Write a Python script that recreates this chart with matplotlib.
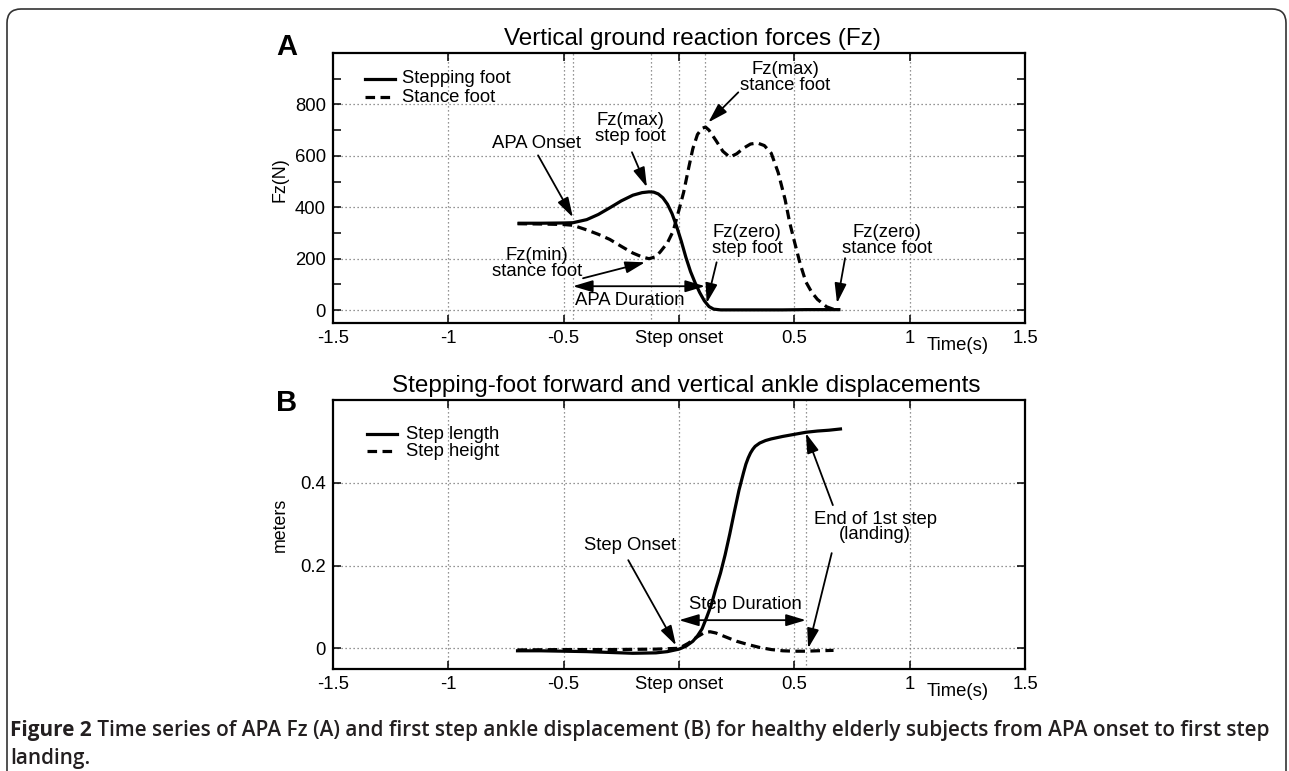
import matplotlib
matplotlib.use('Agg')
import matplotlib.pyplot as plt
from matplotlib import font_manager
from matplotlib.patches import FancyBboxPatch
from matplotlib.transforms import IdentityTransform

# ---------------- data ----------------
t_fz_step = [-0.70, -0.60, -0.50, -0.46, -0.40, -0.35, -0.30, -0.25, -0.20, -0.16, -0.13,
             -0.11, -0.09, -0.07, -0.05, -0.03, -0.01, 0.01, 0.03, 0.05, 0.07, 0.09, 0.11,
             0.13, 0.15, 0.18, 0.25, 0.35, 0.45, 0.55, 0.70]
fz_step = [338, 338, 339, 340, 352, 372, 398, 425, 447, 457, 460,
           459, 452, 437, 412, 375, 325, 268, 205, 150, 106, 68, 36,
           14, 4, 1, 1, 1, 1, 2, 2]

t_fz_stance = [-0.70, -0.60, -0.50, -0.46, -0.40, -0.35, -0.30, -0.25, -0.20, -0.16, -0.13,
               -0.10, -0.08, -0.05, -0.025, 0.00, 0.02, 0.04, 0.06, 0.08, 0.10, 0.115,
               0.13, 0.16, 0.19, 0.22, 0.25, 0.28, 0.31, 0.34, 0.37, 0.40, 0.43, 0.46,
               0.48, 0.50, 0.525, 0.55, 0.575, 0.60, 0.64, 0.68]
fz_stance = [336, 335, 333, 330, 312, 295, 275, 248, 222, 207, 200,
             208, 228, 262, 308, 390, 458, 545, 628, 683, 707, 712,
             700, 660, 618, 595, 608, 630, 646, 650, 640, 610, 535, 430,
             340, 268, 181, 110, 70, 42, 13, 0]

t_len = [-0.70, -0.60, -0.50, -0.40, -0.30, -0.20, -0.10, -0.05, 0.00, 0.03, 0.06, 0.08,
         0.10, 0.12, 0.14, 0.16, 0.18, 0.20, 0.22, 0.24, 0.26, 0.28, 0.29, 0.30, 0.31,
         0.32, 0.33, 0.35, 0.375, 0.40, 0.45, 0.50, 0.55, 0.60, 0.65, 0.70]
step_length = [-0.006, -0.006, -0.007, -0.008, -0.010, -0.012, -0.011, -0.008, -0.002, 0.005,
               0.017, 0.030, 0.047, 0.075, 0.105, 0.145, 0.182, 0.226, 0.276, 0.330, 0.382,
               0.425, 0.445, 0.460, 0.472, 0.481, 0.488, 0.496, 0.502, 0.506, 0.512, 0.517,
               0.522, 0.525, 0.527, 0.530]

t_height = [-0.70, -0.50, -0.30, -0.10, 0.00, 0.04, 0.08, 0.11, 0.135, 0.16, 0.20, 0.25,
            0.30, 0.35, 0.40, 0.45, 0.50, 0.55, 0.60, 0.67]
step_height = [-0.004, -0.003, -0.003, -0.002, 0.000, 0.012, 0.028, 0.038, 0.040, 0.037,
               0.028, 0.017, 0.009, 0.002, -0.003, -0.006, -0.007, -0.007, -0.006, -0.005]

x_ticks = [-1.5, -1, -0.5, 0, 0.5, 1, 1.5]
x_ticklabels = ['-1.5', '-1', '-0.5', 'Step onset', '0.5', '1', '1.5']
fz_yticks = [0, 200, 400, 600, 800]
fz_minor = [100, 300, 500, 700, 900]
m_yticks = [0, 0.2, 0.4]
m_yticklabels = ['0', '0.2', '0.4']
events_a = [-0.46, -0.12, 0.113]
events_b = [0.55]

# ---------------- fonts ----------------
names = {f.name for f in font_manager.fontManager.ttflist}
main_font = 'Liberation Sans' if 'Liberation Sans' in names else 'DejaVu Sans'
cap_font = None
for cand in ['Liberation Sans Narrow', 'Open Sans', 'Liberation Sans']:
    if cand in names:
        cap_font = cand
        break
plt.rcParams['font.family'] = [main_font, 'DejaVu Sans']

W, H = 1289, 771
fig = plt.figure(figsize=(W / 100, H / 100), dpi=100)
fig.patch.set_facecolor('white')

axA = fig.add_axes([333 / W, 1 - 323 / H, 692 / W, 270 / H])
axB = fig.add_axes([333 / W, 1 - 669 / H, 692 / W, 269 / H])

grid_kw = dict(color='0.45', lw=0.9, ls=(0, (1, 2.2)), zorder=0)
LW = 2.3
DASH = (0, (3.0, 1.7))


def style(ax):
    ax.set_xlim(-1.5, 1.5)
    ax.set_xticks(x_ticks)
    ax.set_xticklabels(x_ticklabels)
    for s in ax.spines.values():
        s.set_linewidth(1.6)
    ax.tick_params(which='both', direction='in', top=True, right=True, length=5.5,
                   width=1.1, labelsize=13.3, pad=5)
    for x in x_ticks[1:-1]:
        ax.axvline(x, **grid_kw)


# ---------------- panel A ----------------
style(axA)
axA.set_ylim(-50, 1000)
axA.set_yticks(fz_yticks)
axA.set_yticks(fz_minor, minor=True)
for y in fz_yticks:
    axA.axhline(y, **grid_kw)
for x in events_a:
    axA.axvline(x, **grid_kw)

axA.plot(t_fz_step, fz_step, color='k', lw=LW, solid_capstyle='butt', zorder=3)
axA.plot(t_fz_stance, fz_stance, color='k', lw=LW, ls=DASH, zorder=3)

# legend
axA.plot([0.046, 0.090], [0.904, 0.904], color='k', lw=LW, transform=axA.transAxes)
axA.plot([0.046, 0.090], [0.837, 0.837], color='k', lw=LW, ls=DASH, transform=axA.transAxes)
axA.text(0.0995, 0.904, 'Stepping foot', transform=axA.transAxes, fontsize=13.3, va='center')
axA.text(0.0995, 0.837, 'Stance foot', transform=axA.transAxes, fontsize=13.3, va='center')

axA.text(-0.0766, 0.53, 'Fz(N)', transform=axA.transAxes, rotation=90, fontsize=12.8,
         ha='center', va='center')

arrow = dict(arrowstyle='-|>,head_length=0.6,head_width=0.18', color='k', lw=1.3,
             shrinkA=0, shrinkB=0, mutation_scale=20)
darrow = dict(arrowstyle='<|-|>,head_length=0.6,head_width=0.18', color='k', lw=1.3,
              shrinkA=0, shrinkB=0, mutation_scale=20)

tk = dict(fontsize=13.3, ha='center', va='center', linespacing=0.9)
axA.text(-0.616, 648, 'APA Onset', **tk)
axA.annotate('', xy=(-0.46, 361), xytext=(-0.611, 602), arrowprops=arrow)
axA.text(-0.212, 707, 'Fz(max)\nstep foot', **tk)
axA.annotate('', xy=(-0.139, 478), xytext=(-0.204, 614), arrowprops=arrow)
axA.text(-0.616, 182, 'Fz(min)\nstance foot', **tk)
axA.annotate('', xy=(-0.147, 186), xytext=(-0.416, 124), arrowprops=arrow)
axA.text(-0.212, 39, 'APA Duration', **tk)
axA.annotate('', xy=(0.113, 93), xytext=(-0.46, 93), arrowprops=darrow)
axA.text(0.295, 272, 'Fz(zero)\nstep foot', **tk)
axA.annotate('', xy=(0.12, 27), xytext=(0.163, 186), arrowprops=arrow)
axA.text(0.46, 905, 'Fz(max)\nstance foot', **tk)
axA.annotate('', xy=(0.127, 730), xytext=(0.257, 847), arrowprops=arrow)
axA.text(0.902, 272, 'Fz(zero)\nstance foot', **tk)
axA.annotate('', xy=(0.685, 27), xytext=(0.72, 202), arrowprops=arrow)

axA.annotate('Time(s)', xy=(1.21, 0), xycoords=('data', 'axes fraction'),
             xytext=(0, -16), textcoords='offset points', ha='center', va='center',
             fontsize=13.3)

# ---------------- panel B ----------------
style(axB)
axB.set_ylim(-0.05, 0.6)
axB.set_yticks(m_yticks)
axB.set_yticklabels(m_yticklabels)
for y in m_yticks:
    axB.axhline(y, **grid_kw)
for x in events_b:
    axB.axvline(x, **grid_kw)

axB.plot(t_len, step_length, color='k', lw=LW, zorder=3)
axB.plot(t_height, step_height, color='k', lw=LW, ls=DASH, zorder=3)

axB.plot([0.049, 0.092], [0.8736, 0.8736], color='k', lw=LW, transform=axB.transAxes)
axB.plot([0.049, 0.092], [0.810, 0.810], color='k', lw=LW, ls=DASH, transform=axB.transAxes)
axB.text(0.1055, 0.8736, 'Step length', transform=axB.transAxes, fontsize=13.3, va='center')
axB.text(0.1055, 0.810, 'Step height', transform=axB.transAxes, fontsize=13.3, va='center')

axB.text(-0.0766, 0.535, 'meters', transform=axB.transAxes, rotation=90, fontsize=12.8,
         ha='center', va='center')

axB.text(-0.212, 0.249, 'Step Onset', **tk)
axB.annotate('', xy=(-0.013, 0.007), xytext=(-0.22, 0.213), arrowprops=arrow)
axB.text(0.286, 0.106, 'Step Duration', **tk)
axB.annotate('', xy=(0.55, 0.068), xytext=(0.0, 0.068), arrowprops=darrow)
axB.text(0.85, 0.293, 'End of 1st step\n(landing)', **tk)
axB.annotate('', xy=(0.55, 0.52), xytext=(0.667, 0.346), arrowprops=arrow)
axB.annotate('', xy=(0.56, 0.0), xytext=(0.662, 0.23), arrowprops=arrow)

axB.annotate('Time(s)', xy=(1.21, 0), xycoords=('data', 'axes fraction'),
             xytext=(0, -16), textcoords='offset points', ha='center', va='center',
             fontsize=13.3)

# ---------------- titles / panel letters ----------------
fig.text(692 / W, 1 - 45 / H, 'Vertical ground reaction forces (Fz)', fontsize=17.5,
         ha='center', va='baseline')
fig.text(686 / W, 1 - 392 / H, 'Stepping-foot forward and vertical ankle displacements',
         fontsize=17.5, ha='center', va='baseline')
fig.text(287 / W, 1 - 55 / H, 'A', fontsize=21, fontweight='bold', ha='center', va='baseline')
fig.text(287 / W, 1 - 411 / H, 'B', fontsize=21, fontweight='bold', ha='center', va='baseline')

# ---------------- caption ----------------
cap_color = '#231f20'
cap_bold = 'Figure 2'
cap_rest = (' Time series of APA Fz (A) and first step ankle displacement (B) for healthy '
            'elderly subjects from APA onset to first step')
cap_fs = 15
t1 = fig.text(10 / W, 1 - 736 / H, cap_bold, fontsize=cap_fs, fontweight='bold',
              family=cap_font, color=cap_color, va='baseline')
t2 = fig.text(0, 1 - 736 / H, cap_rest, fontsize=cap_fs, family=cap_font,
              fontweight='semibold', color=cap_color, va='baseline')
t3 = fig.text(10 / W, 1 - 764 / H, 'landing.', fontsize=cap_fs, fontweight='semibold',
              family=cap_font, color=cap_color, va='baseline')
fig.canvas.draw()
r = fig.canvas.get_renderer()
w1 = t1.get_window_extent(r).width
w2 = t2.get_window_extent(r).width
scale = 1263 / (w1 + w2)
fs = cap_fs * scale
for t in (t1, t2, t3):
    t.set_fontsize(fs)
fig.canvas.draw()
w1 = t1.get_window_extent(r).width
t2.set_x((10 + w1) / W)

# ---------------- frame ----------------
frame = FancyBboxPatch((7, -30), 1279, H - 9 + 30,
                       boxstyle='round,pad=0,rounding_size=14', transform=IdentityTransform(),
                       fill=False, lw=1.2, edgecolor='#333333')
fig.patches.append(frame)

fig.savefig('out.png', dpi=100)
